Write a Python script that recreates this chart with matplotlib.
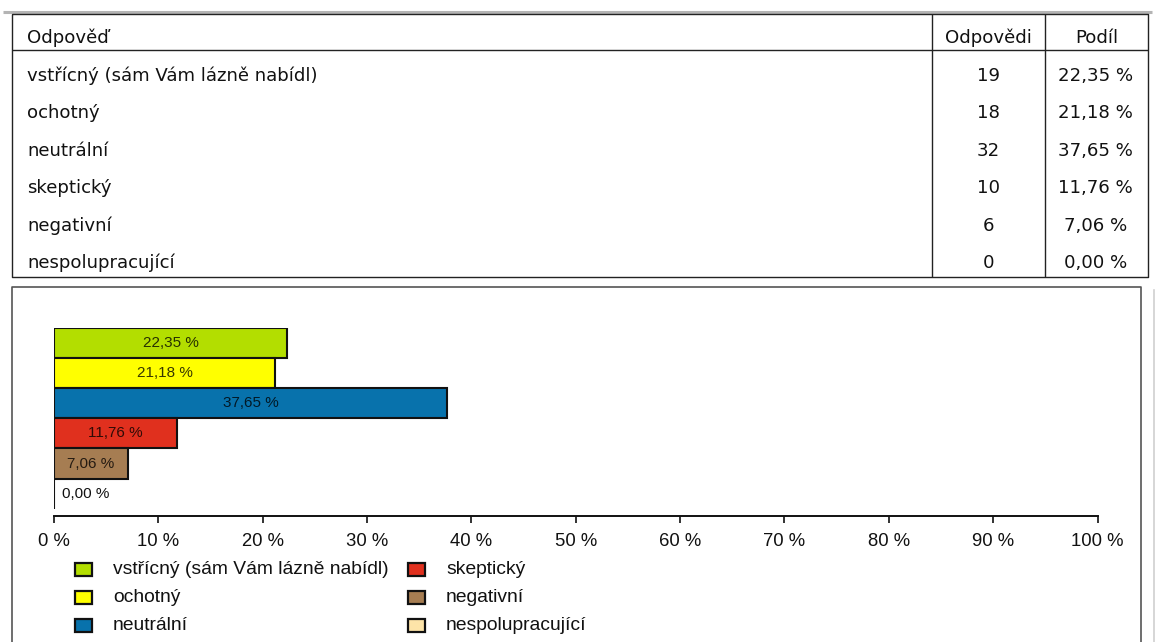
import matplotlib
matplotlib.use("Agg")
import matplotlib.pyplot as plt
from matplotlib.patches import Rectangle
from matplotlib.colors import to_rgb

# Survey data
answers = [
    "vstřícný (sám Vám lázně nabídl)",
    "ochotný",
    "neutrální",
    "skeptický",
    "negativní",
    "nespolupracující",
]
counts = [19, 18, 32, 10, 6, 0]
shares = [22.35, 21.18, 37.65, 11.76, 7.06, 0.00]
colors = ["#b3de00", "#ffff00", "#0872ac", "#e0301e", "#a67d52", "#fde4a8"]
header = ["Odpověď", "Odpovědi", "Podíl"]
tick_values = list(range(0, 101, 10))
tick_labels = [f"{t} %" for t in tick_values]


def fmt_share(v):
    return f"{v:.2f}".replace(".", ",") + " %"


W, H = 1160, 642
fig = plt.figure(figsize=(W / 100, H / 100), dpi=100)
fig.patch.set_facecolor("white")

# Overlay in pixel coordinates for the table, frames and legend
ov = fig.add_axes([0, 0, 1, 1])
ov.set_xlim(0, W)
ov.set_ylim(H, 0)
ov.axis("off")
ov.patch.set_visible(False)

table_font = dict(family="DejaVu Sans", fontsize=13.1, color="#111111")

# Page rule and outer frames
ov.plot([3, 1152], [12, 12], color="#b4b4b4", lw=2.2, solid_capstyle="butt")
ov.plot([1154, 1154], [290, H], color="#d0d0d0", lw=1.2)

# Table grid
tl, tr, tt, tb = 12, 1148, 14, 277
c1, c2 = 932, 1045
hdr_bottom = 50
line_kw = dict(color="#222222", lw=1.0, solid_capstyle="butt")
ov.plot([tl, tr, tr, tl, tl], [tt, tt, tb, tb, tt], **line_kw)
ov.plot([tl, tr], [hdr_bottom, hdr_bottom], **line_kw)
ov.plot([c1, c1], [tt, tb], **line_kw)
ov.plot([c2, c2], [tt, tb], **line_kw)

# Header texts
ov.text(27, 38, header[0], ha="left", va="center", **table_font)
ov.text((c1 + c2) / 2, 38, header[1], ha="center", va="center", **table_font)
ov.text((c2 + tr) / 2, 38, header[2], ha="center", va="center", **table_font)

# Table rows
row0, row_step = 76, 37.4
for i, (a, n, s) in enumerate(zip(answers, counts, shares)):
    y = row0 + i * row_step
    ov.text(27, y, a, ha="left", va="center", **table_font)
    ov.text((c1 + c2) / 2, y, str(n), ha="center", va="center", **table_font)
    ov.text((c2 + tr) / 2 - 1, y, fmt_share(s), ha="center", va="center", **table_font)

# Chart frame
ov.plot([12, 12, 1141, 1141], [H, 287, 287, H], color="#555555", lw=1.2)

# Bar chart
x0_px, x1_px = 54, 1097.5
y_top_px, y_axis_px = 327.7, 516
bar_px = 30.2
ax = fig.add_axes([x0_px / W, (H - y_axis_px) / H,
                   (x1_px - x0_px) / W, (y_axis_px - y_top_px) / H])
ax.patch.set_visible(False)
n = len(shares)
ypos = list(range(n))
ax.barh(ypos, shares, height=1.0, color=colors, edgecolor="#111111",
        linewidth=1.5, zorder=3)
ax.set_xlim(0, 100)
ax.set_ylim(-0.5 + (y_axis_px - y_top_px) / bar_px, -0.5)
ax.set_yticks([])
for side in ("top", "right", "left"):
    ax.spines[side].set_visible(False)
ax.spines["bottom"].set_linewidth(1.4)
ax.spines["bottom"].set_color("#111111")
ax.set_xticks(tick_values)
ax.set_xticklabels(tick_labels)
ax.tick_params(axis="x", direction="out", length=5, width=1.2, pad=7,
               labelsize=13.3, colors="#111111")
for lbl in ax.get_xticklabels():
    lbl.set_family("Liberation Sans")

for y, v, c in zip(ypos, shares, colors):
    r, g, b = to_rgb(c)
    dark = (r * 0.22, g * 0.22, b * 0.22)
    if v > 0:
        ax.text(v / 2, y, fmt_share(v), ha="center", va="center",
                fontsize=11, family="Liberation Sans", color=dark, zorder=4)
    else:
        ax.text(0.8, y, fmt_share(v), ha="left", va="center",
                fontsize=11, family="Liberation Sans", color="#111111", zorder=4)

# Legend: two columns, filled column by column
leg_cols_x = [75, 408]
leg_rows_y = [569.5, 597.5, 625.5]
sq_w, sq_h = 17, 13
for i, (a, c) in enumerate(zip(answers, colors)):
    col, row = divmod(i, 3)
    x = leg_cols_x[col]
    y = leg_rows_y[row]
    ov.add_patch(Rectangle((x, y - sq_h / 2), sq_w, sq_h, facecolor=c,
                           edgecolor="#111111", lw=1.6))
    ov.text(x + sq_w + 21, y, a, ha="left", va="center", fontsize=13.9,
            family="Liberation Sans", color="#111111")

fig.savefig("out.png", dpi=100, facecolor="white")
